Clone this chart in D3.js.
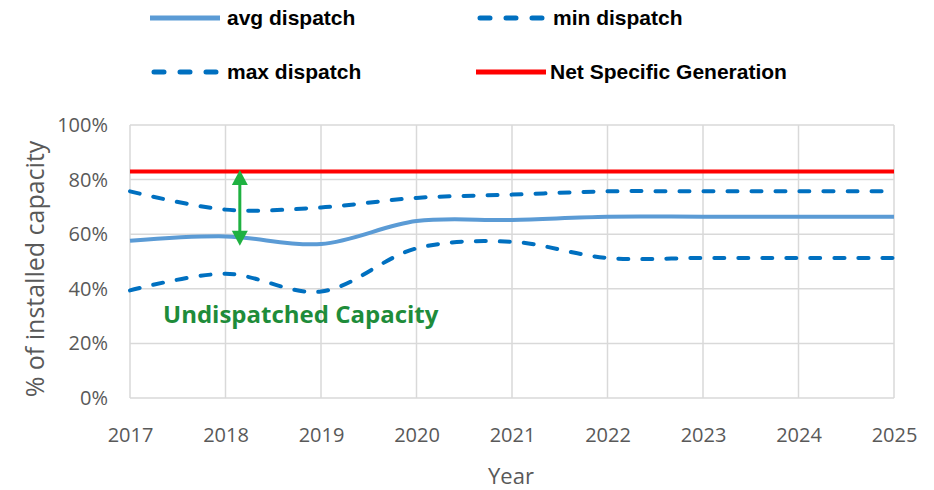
<!DOCTYPE html>
<html>
<head>
<meta charset="utf-8">
<script src="https://cdn.jsdelivr.net/npm/d3@7"></script>
<style>
  body { margin: 0; background: #fff; }
</style>
</head>
<body>
<div id="my_dataviz"></div>
<script>
// data
var years = [2017, 2018, 2019, 2020, 2021, 2022, 2023, 2024, 2025];
var avgDispatch = [57.6, 59.2, 56.4, 64.8, 65.2, 66.4, 66.4, 66.4, 66.4];
var maxDispatch = [75.7, 69.0, 69.8, 73.3, 74.5, 75.7, 75.7, 75.7, 75.7];
var minDispatch = [39.4, 45.5, 39.0, 54.8, 57.2, 51.3, 51.3, 51.3, 51.3];
var netSpecific = [83, 83, 83, 83, 83, 83, 83, 83, 83];
var yTicks = [0, 20, 40, 60, 80, 100];
var arrowYear = 2018.15, arrowFrom = 83.5, arrowTo = 55.8;

var width = 934, height = 490;
var svg = d3.select("#my_dataviz")
  .append("svg")
    .attr("width", width)
    .attr("height", height);

var x = d3.scaleLinear().domain([2017, 2025]).range([130, 894]);
var y = d3.scaleLinear().domain([0, 100]).range([398, 125]);

// grid
svg.append("g")
  .selectAll("line.h")
  .data(yTicks)
  .enter().append("line")
    .attr("x1", x(2017)).attr("x2", x(2025))
    .attr("y1", function(d) { return y(d); })
    .attr("y2", function(d) { return y(d); })
    .attr("stroke", "#d9d9d9").attr("stroke-width", 1.5);
svg.append("g")
  .selectAll("line.v")
  .data(years)
  .enter().append("line")
    .attr("x1", function(d) { return x(d); })
    .attr("x2", function(d) { return x(d); })
    .attr("y1", y(0)).attr("y2", y(100))
    .attr("stroke", "#d9d9d9").attr("stroke-width", 1.5);

// axes (labels only, Excel style)
var yAxis = svg.append("g")
  .attr("transform", "translate(" + x(2017) + ",0)")
  .call(d3.axisLeft(y).tickValues(yTicks).tickSize(0).tickPadding(22)
    .tickFormat(function(d) { return d + "%"; }));
yAxis.select(".domain").remove();
yAxis.selectAll("text")
  .attr("font-family", "'Open Sans', sans-serif")
  .attr("font-size", 20).attr("fill", "#595959");

var xAxis = svg.append("g")
  .attr("transform", "translate(0," + y(0) + ")")
  .call(d3.axisBottom(x).tickValues(years).tickSize(0).tickPadding(30)
    .tickFormat(d3.format("d")));
xAxis.select(".domain").remove();
xAxis.selectAll("text")
  .attr("font-family", "'Open Sans', sans-serif")
  .attr("font-size", 20).attr("fill", "#595959");

// axis titles
svg.append("text")
  .attr("x", 511).attr("y", 484)
  .attr("text-anchor", "middle")
  .attr("font-family", "'Open Sans', sans-serif")
  .attr("font-size", 22).attr("fill", "#595959")
  .text("Year");
svg.append("text")
  .attr("transform", "translate(44,269) rotate(-90)")
  .attr("text-anchor", "middle")
  .attr("font-family", "'Open Sans', sans-serif")
  .attr("font-size", 25).attr("fill", "#595959")
  .text("% of installed capacity");

// lines
var line = d3.line()
  .x(function(d, i) { return x(years[i]); })
  .y(function(d) { return y(d); })
  .curve(d3.curveCatmullRom);

var series = [
  { name: "avg dispatch", values: avgDispatch, color: "#5b9bd5", dash: null },
  { name: "min dispatch", values: minDispatch, color: "#0070c0", dash: "10,14" },
  { name: "max dispatch", values: maxDispatch, color: "#0070c0", dash: "10,14" },
  { name: "Net Specific Generation", values: netSpecific, color: "#ff0000", dash: null }
];

svg.append("g")
  .selectAll("path")
  .data(series)
  .enter().append("path")
    .attr("fill", "none")
    .attr("stroke", function(d) { return d.color; })
    .attr("stroke-width", 4)
    .attr("stroke-linecap", function(d) { return d.dash ? "round" : "butt"; })
    .attr("stroke-dasharray", function(d) { return d.dash; })
    .attr("d", function(d) { return line(d.values); });

// arrow
var green = "#1fb141";
var ax = x(arrowYear), ay1 = y(arrowFrom), ay2 = y(arrowTo);
svg.append("line")
  .attr("x1", ax).attr("x2", ax)
  .attr("y1", ay1 + 8).attr("y2", ay2 - 8)
  .attr("stroke", green).attr("stroke-width", 3);
svg.append("path")
  .attr("d", "M" + ax + "," + ay1 + "L" + (ax - 8) + "," + (ay1 + 15) + "L" + (ax + 8) + "," + (ay1 + 15) + "Z")
  .attr("fill", green);
svg.append("path")
  .attr("d", "M" + ax + "," + ay2 + "L" + (ax - 8) + "," + (ay2 - 15) + "L" + (ax + 8) + "," + (ay2 - 15) + "Z")
  .attr("fill", green);

svg.append("text")
  .attr("x", 163).attr("y", 323)
  .attr("font-family", "'Open Sans', sans-serif")
  .attr("font-weight", "bold")
  .attr("font-size", 24).attr("fill", "#1e8c3a")
  .text("Undispatched Capacity");

// legend
var legendPos = [[150, 18], [476, 18], [150, 72], [476, 72]];
var lg = svg.append("g")
  .selectAll("g")
  .data(series)
  .enter().append("g")
    .attr("transform", function(d, i) {
      return "translate(" + legendPos[i][0] + "," + legendPos[i][1] + ")";
    });
lg.append("line")
  .attr("x1", function(d) { return d.dash ? 4 : 0; })
  .attr("x2", function(d) { return d.dash ? 66 : 70; })
  .attr("stroke", function(d) { return d.color; })
  .attr("stroke-width", 5)
  .attr("stroke-linecap", function(d) { return d.dash ? "round" : "butt"; })
  .attr("stroke-dasharray", function(d) { return d.dash ? "10,16" : null; });
lg.append("text")
  .attr("x", function(d, i) { return i === 3 ? 74 : 77; })
  .attr("y", 7)
  .attr("font-family", "'Liberation Sans', Arial, sans-serif")
  .attr("font-weight", "bold")
  .attr("font-size", 21).attr("fill", "#000")
  .text(function(d) { return d.name; });
</script>
</body>
</html>
